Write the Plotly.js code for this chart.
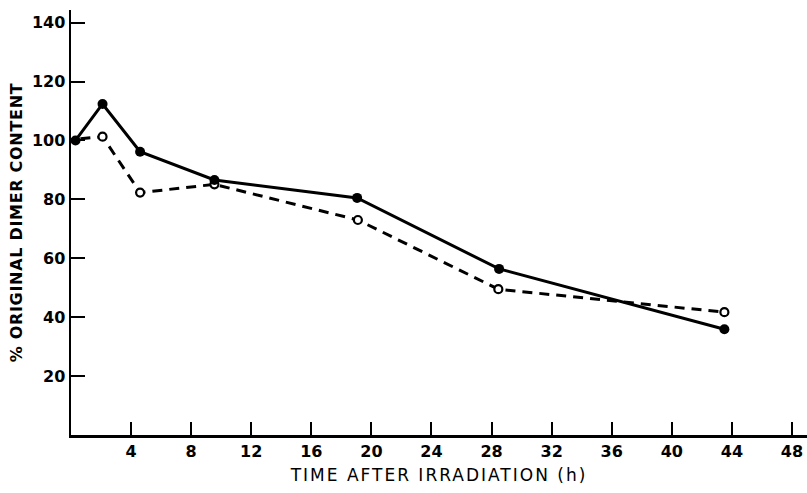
<!DOCTYPE html>
<html>
<head>
<meta charset="utf-8">
<script src="https://cdn.plot.ly/plotly-3.0.1.min.js"></script>
<style>
html,body{margin:0;padding:0;background:#fff;}
#chart{width:807px;height:493px;}
.xtitle{letter-spacing:2px;}
.ytitle{letter-spacing:0.7px;}
</style>
</head>
<body>
<div id="chart"></div>
<script>
const filledTime = [0.3, 2.1, 4.6, 9.55, 19.05, 28.5, 43.5];
const filledContent = [100, 112.4, 96.2, 86.6, 80.5, 56.4, 35.9];
const openTime = [-0.5, 2.1, 4.6, 9.55, 19.1, 28.45, 43.5];
const openContent = [100, 101.3, 82.3, 85.1, 73.0, 49.5, 41.7];
const xTicks = [4, 8, 12, 16, 20, 24, 28, 32, 36, 40, 44, 48];
const yTicks = [20, 40, 60, 80, 100, 120, 140];

const traces = [
  {
    x: openTime, y: openContent, mode: 'lines+markers', type: 'scatter',
    line: {color: '#000', width: 3, dash: '10px,7px'},
    marker: {symbol: 'circle', size: 8, color: '#fff', line: {color: '#000', width: 2.2}},
    cliponaxis: false, showlegend: false
  },
  {
    x: filledTime, y: filledContent, mode: 'lines+markers', type: 'scatter',
    line: {color: '#000', width: 3},
    marker: {symbol: 'circle', size: 10, color: '#000'},
    cliponaxis: false, showlegend: false
  }
];

const tickFont = {family: 'DejaVu Sans', size: 16, color: '#000', weight: 'bold'};
const layout = {
  width: 807, height: 493,
  margin: {l: 71, r: 0, t: 10, b: 58},
  paper_bgcolor: '#fff', plot_bgcolor: '#fff',
  xaxis: {
    range: [0, 49], tickvals: xTicks, ticks: 'inside', ticklen: 13, tickwidth: 2, tickcolor: '#000',
    showline: true, linecolor: '#000', linewidth: 2.5, showgrid: false, zeroline: false,
    tickfont: tickFont,
    title: {text: 'TIME AFTER IRRADIATION (h)', font: {family: 'DejaVu Sans', size: 17, color: '#000'}, standoff: 10}
  },
  yaxis: {
    range: [0, 144.3], tickvals: yTicks, ticks: 'inside', ticklen: 14, tickwidth: 2, tickcolor: '#000',
    showline: true, linecolor: '#000', linewidth: 2.5, showgrid: false, zeroline: false,
    tickfont: tickFont,
    title: {text: '% ORIGINAL DIMER CONTENT', font: {family: 'DejaVu Sans', size: 16, color: '#000', weight: 'bold'}, standoff: 6}
  }
};
Plotly.newPlot('chart', traces, layout, {displayModeBar: false, staticPlot: true});
</script>
</body>
</html>
